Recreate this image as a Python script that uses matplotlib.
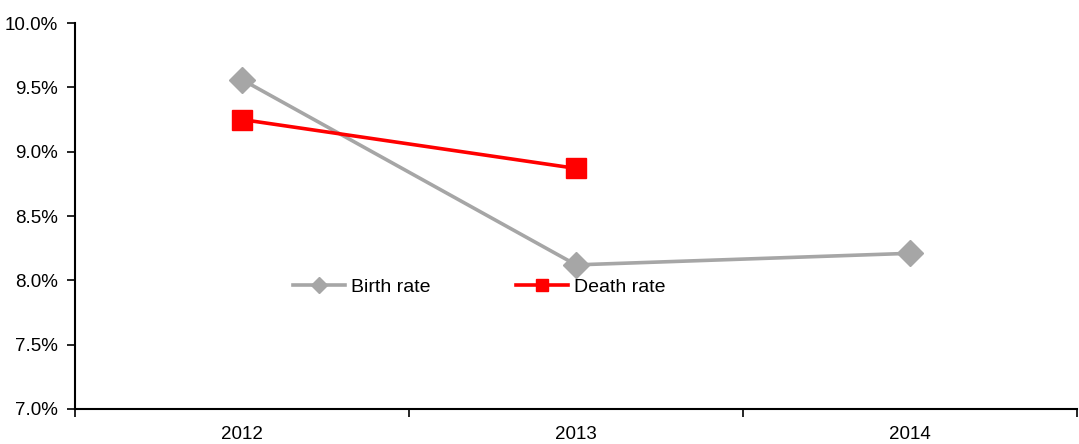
import numpy as np
import matplotlib.pyplot as plt
from matplotlib.ticker import FuncFormatter

plt.rcParams['font.family'] = ['Liberation Sans', 'DejaVu Sans']

years = ['2012', '2013', '2014']
birth_rate = [9.56, 8.12, 8.21]
death_rate = [9.25, 8.87]

fig = plt.figure(figsize=(10.79, 4.44), dpi=100)
ax = fig.add_axes([0.0695, 0.079, 0.929, 0.869])

x = np.arange(len(years))
ax.plot(x, birth_rate, color='#a6a6a6', lw=2.6, marker='D', ms=13,
        label='Birth rate')
ax.plot(x[:len(death_rate)], death_rate, color='#ff0000', lw=2.6, marker='s',
        ms=14, label='Death rate')

ax.set_xlim(-0.5, 2.5)
ax.set_ylim(7.0, 10.0)
ax.set_yticks(np.arange(7.0, 10.01, 0.5))
ax.yaxis.set_major_formatter(FuncFormatter(lambda v, p: f'{v:.1f}%'))

# category labels sit between the ticks, like the original
ax.set_xticks(np.arange(-0.5, 2.6, 1.0))
ax.set_xticklabels([])
ax.set_xticks(x, minor=True)
ax.set_xticklabels(years, minor=True)
ax.tick_params(axis='x', which='minor', length=0, labelsize=13.5, pad=12)
ax.tick_params(axis='x', which='major', direction='out', length=6, width=1.2)
ax.tick_params(axis='y', direction='out', length=6, width=1.2, labelsize=13.5, pad=6)

for s in ['top', 'right']:
    ax.spines[s].set_visible(False)
for s in ['left', 'bottom']:
    ax.spines[s].set_linewidth(1.5)

ax.legend(loc='center', bbox_to_anchor=(0.403, 0.315), ncol=2, frameon=False,
          fontsize=14, markerscale=0.6, handlelength=2.68, handletextpad=0.3,
          columnspacing=4.4)

fig.savefig('out.png', dpi=100)
